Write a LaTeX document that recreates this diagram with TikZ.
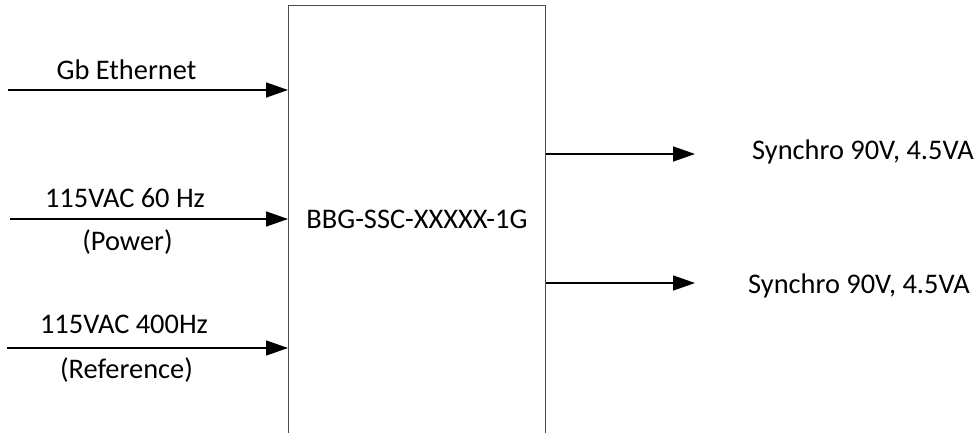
\documentclass[tikz,border=0pt]{standalone}
\usepackage{fontspec}
\setmainfont{Carlito}
\usetikzlibrary{arrows.meta}
\begin{document}
\begin{tikzpicture}[x=1pt,y=-1pt,
  lbl/.style={anchor=base,inner sep=0pt,font=\fontsize{28.4}{34}\selectfont},
  arr/.style={line width=1.5pt,-{Triangle[length=22pt,width=15pt]}},
  boxst/.style={draw=black!70,line width=1.2pt,minimum width=257pt,minimum height=460pt,anchor=north west,inner sep=0pt}]
\useasboundingbox (0,0) rectangle (980,433);
\clip (0,0) rectangle (980,433);
\node[boxst] (box) at (288,5) {};
\node[lbl] (bbg) at (417,228) {BBG-SSC-XXXXX-1G};
% inputs
\coordinate (in1) at (8,90);
\coordinate (in2) at (10,219);
\coordinate (in3) at (7,348);
\draw[arr] (in1) -- (box.west |- in1);
\draw[arr] (in2) -- (box.west |- in2);
\draw[arr] (in3) -- (box.west |- in3);
\node[lbl] (t1) at (126.5,80) {Gb Ethernet};
\node[lbl] (t2) at (125,207) {115VAC 60 Hz};
\node[lbl] (t2b) at (127.5,250) {(Power)};
\node[lbl] (t3) at (124,333) {115VAC 400Hz};
\node[lbl] (t3b) at (126.5,378) {(Reference)};
% outputs
\coordinate (out1) at (695,154);
\coordinate (out2) at (695,283);
\draw[arr] (box.east |- out1) -- (out1);
\draw[arr] (box.east |- out2) -- (out2);
\node[lbl] (o1) at (863,160) {Synchro 90V, 4.5VA};
\node[lbl] (o2) at (859,293) {Synchro 90V, 4.5VA};
\end{tikzpicture}
\end{document}
